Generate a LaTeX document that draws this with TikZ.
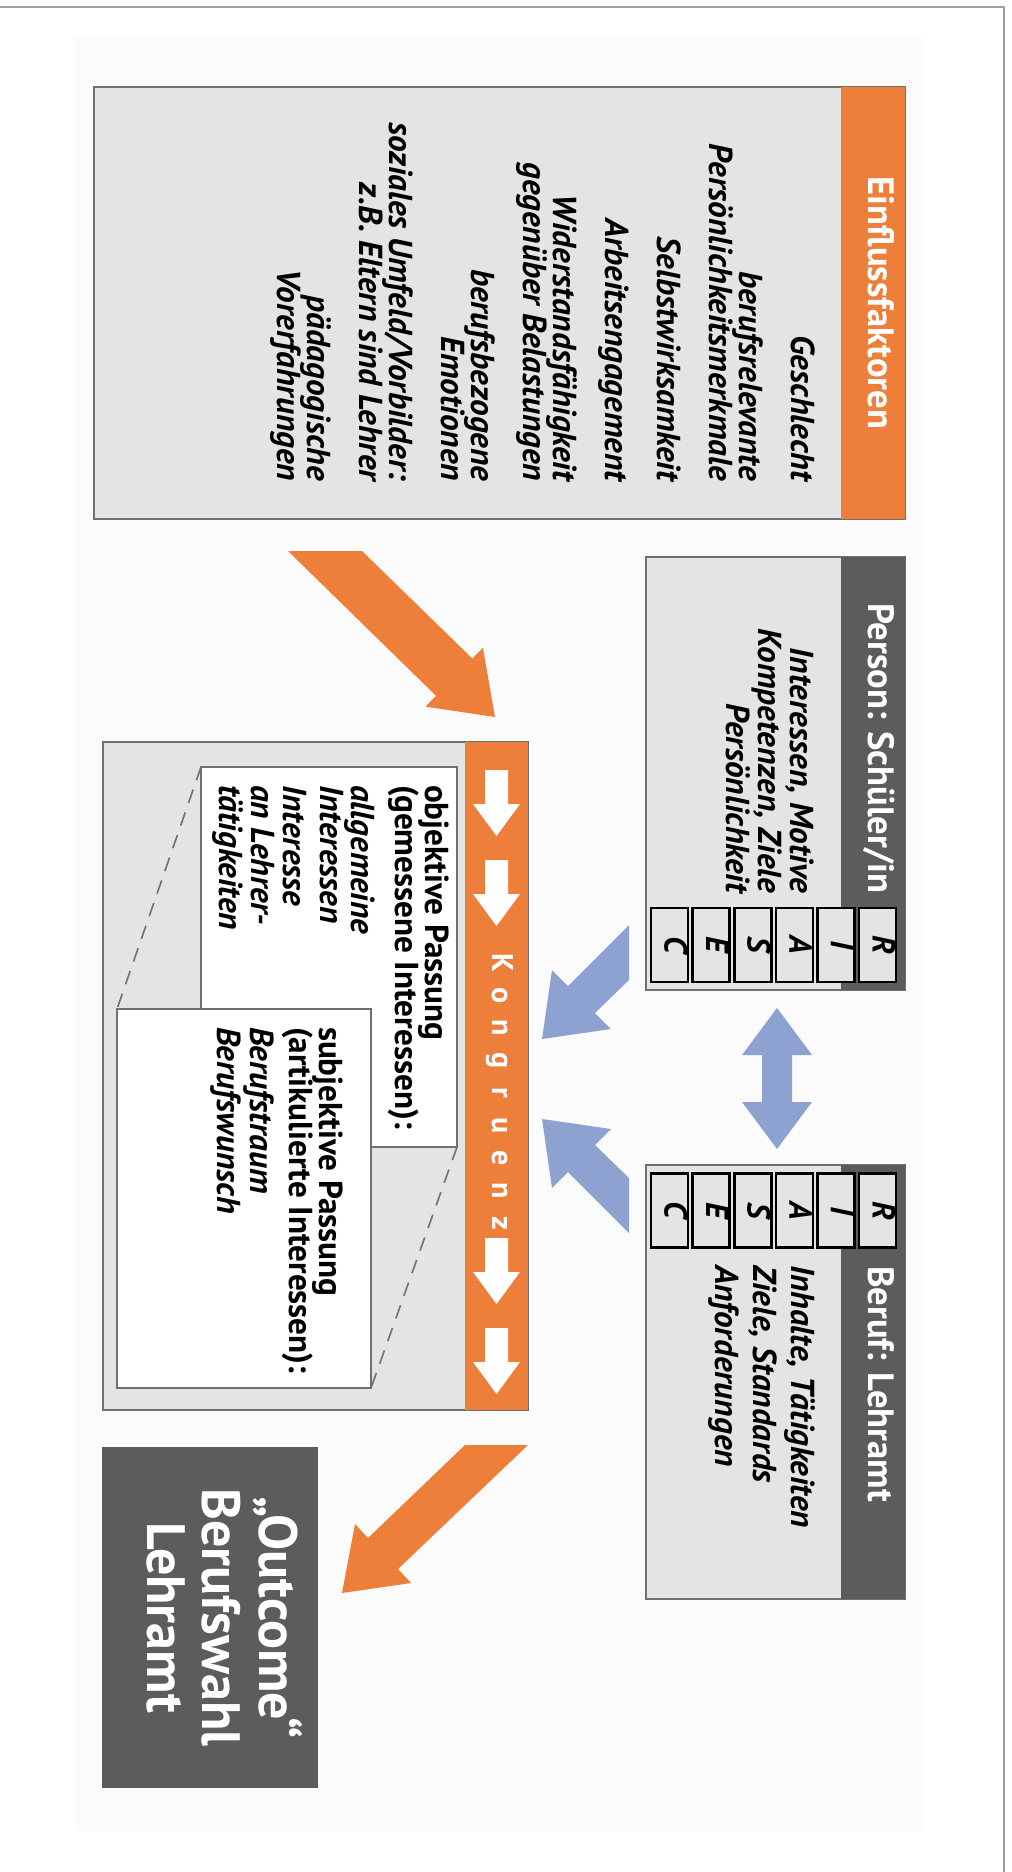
\documentclass[tikz,border=0pt]{standalone}
\usepackage{fontspec}
\setmainfont{PT Sans}
\definecolor{orng}{RGB}{238,127,59}
\definecolor{dgray}{RGB}{92,92,92}
\definecolor{lgray}{RGB}{228,228,228}
\definecolor{bord}{RGB}{112,112,112}
\definecolor{blu}{RGB}{142,162,210}
\definecolor{faint}{RGB}{251,251,251}
\definecolor{framec}{RGB}{160,160,160}
\begin{document}
\begin{tikzpicture}[x=0.5pt,y=-0.5pt,
  vt/.style={rotate=-90, inner sep=0pt, outer sep=0pt, text height=0.7em, text depth=0.2em},
  bodyit/.style={vt, font=\fontsize{16.6}{18}\selectfont\bfseries\itshape},
  bodybf/.style={vt, font=\fontsize{16.6}{18}\selectfont\bfseries},
  headtxt/.style={vt, text=white, font=\fontsize{18.3}{21}\selectfont\bfseries},
  outtxt/.style={vt, text=white, font=\fontsize{27}{30}\selectfont\bfseries},
  kong/.style={vt, text=white, font=\fontsize{15}{17}\selectfont\bfseries},
  graybox/.style={fill=lgray, draw=bord, line width=1.2pt, inner sep=0pt, outer sep=0pt, anchor=north west},
  whitebox/.style={fill=white, draw=bord, line width=1.2pt, inner sep=0pt, outer sep=0pt, anchor=north west},
  bandbox/.style={inner sep=0pt, outer sep=0pt, anchor=north west},
  cell/.style={vt, draw=black, fill=lgray, line width=1.3pt, minimum width=37pt, minimum height=18.5pt, font=\fontsize{16}{18}\selectfont\bfseries\itshape},
  zoomline/.style={draw=bord, line width=0.8pt, dash pattern=on 7pt off 5pt}
]
\useasboundingbox (0,0) rectangle (1011,1872);
\fill[faint] (75,38) rectangle (924,1831);
\draw[framec, line width=1pt] (0,7) -- (1004,7) -- (1004,1872);

% Einflussfaktoren
\node[graybox, minimum width=405.5pt, minimum height=216pt] (einfl) at (94,87) {};
\node[bandbox, fill=orng, minimum width=32pt, minimum height=216pt] (einflH) at (841,87) {};
\node[headtxt] (einflT) at (873,303) {Einflussfaktoren};
\node[bodyit, anchor=east] (e1) at (796,481) {Geschlecht};
\node[bodyit, anchor=east] (e2) at (744,481) {berufsrelevante};
\node[bodyit, anchor=east] (e3) at (714,481) {Persönlichkeitsmerkmale};
\node[bodyit, anchor=east] (e4) at (662,481) {Selbstwirksamkeit};
\node[bodyit, anchor=east] (e5) at (610,481) {Arbeitsengagement};
\node[bodyit, anchor=east] (e6) at (558,481) {Widerstandsfähigkeit};
\node[bodyit, anchor=east] (e7) at (528,481) {gegenüber Belastungen};
\node[bodyit, anchor=east] (e8) at (476,481) {berufsbezogene};
\node[bodyit, anchor=east] (e9) at (446,481) {Emotionen};
\node[bodyit, anchor=east] (e10) at (394,481) {soziales Umfeld/Vorbilder:};
\node[bodyit, anchor=east] (e11) at (364,481) {z.B. Eltern sind Lehrer};
\node[bodyit, anchor=east] (e12) at (312,481) {pädagogische};
\node[bodyit, anchor=east] (e13) at (282,481) {Vorerfahrungen};

% Person
\node[graybox, minimum width=129.5pt, minimum height=216.5pt] (pers) at (646,557) {};
\node[bandbox, fill=dgray, minimum width=32pt, minimum height=216.5pt] (persH) at (841,557) {};
\node[headtxt, anchor=west] (persT) at (873,603) {Person: Schüler/in};
\node[bodyit, anchor=east] (p1) at (795,893) {Interessen, Motive};
\node[bodyit, anchor=east] (p2) at (763,893) {Kompetenzen, Ziele};
\node[bodyit, anchor=east] (p3) at (731,893) {Persönlichkeit};
\foreach \c [count=\i] in {R,I,A,S,E,C}
  \node[cell] (p\c) at (877.5-41.6*\i+41.6,945) {\c};

% Beruf
\node[graybox, minimum width=129.5pt, minimum height=217pt] (beruf) at (646,1165) {};
\node[bandbox, fill=dgray, minimum width=32pt, minimum height=217pt] (berufH) at (841,1165) {};
\node[headtxt, anchor=west] (berufT) at (873,1266) {Beruf: Lehramt};
\node[bodyit, anchor=west] (b1) at (796,1265) {Inhalte, Tätigkeiten};
\node[bodyit, anchor=west] (b2) at (758,1265) {Ziele, Standards};
\node[bodyit, anchor=west] (b3) at (720,1265) {Anforderungen};
\foreach \c [count=\i] in {R,I,A,S,E,C}
  \node[cell] (b\c) at (877.5-41.6*\i+41.6,1210.5) {\c};

% Kongruenz
\node[graybox, minimum width=212.5pt, minimum height=334pt] (kongr) at (103,742) {};
\node[bandbox, fill=orng, minimum width=31.5pt, minimum height=334pt] (kongrH) at (465,742) {};
\foreach \t in {770,860,1238,1328}
  \fill[white] (485,\t) -- (508,\t) -- (508,\t+34) -- (520,\t+34) -- (496.5,\t+66) -- (473,\t+34) -- (485,\t+34) -- cycle;
\foreach \c [count=\i] in {K,o,n,g,r,u,e,n,z}
  \node[kong] (k\i) at (497,963+32.5*\i-32.5) {\c};

\node[whitebox, minimum width=128pt, minimum height=190pt] (obj) at (201,767) {};
\node[bodybf, anchor=west] (o1) at (430,785) {objektive Passung};
\node[bodybf, anchor=west] (o2) at (400,785) {(gemessene Interessen):};
\node[bodyit, anchor=west] (o3) at (356,785) {allgemeine};
\node[bodyit, anchor=west] (o4) at (325,785) {Interessen};
\node[bodyit, anchor=west] (o5) at (288,785) {Interesse};
\node[bodyit, anchor=west] (o6) at (256,785) {an Lehrer-};
\node[bodyit, anchor=west] (o7) at (224,785) {tätigkeiten};

\node[whitebox, minimum width=127pt, minimum height=189.5pt] (subj) at (117,1009) {};
\node[bodybf, anchor=west] (s1) at (324,1027) {subjektive Passung};
\node[bodybf, anchor=west] (s2) at (294,1027) {(artikulierte Interessen):};
\node[bodyit, anchor=west] (s3) at (255,1027) {Berufstraum};
\node[bodyit, anchor=west] (s4) at (222,1027) {Berufswunsch};

\draw[zoomline] (obj.north west) -- (subj.north west);
\draw[zoomline] (obj.south east) -- (subj.south east);

% Outcome
\node[bandbox, fill=dgray, minimum width=108pt, minimum height=170.5pt] (outc) at (102,1447) {};
\node[outtxt] (out1) at (264,1617.5) {„Outcome“};
\node[outtxt] (out2) at (207,1617.5) {Berufswahl};
\node[outtxt] (out3) at (152,1617.5) {Lehramt};

% orange arrows
\fill[orng] (288,551) -- (362,551) -- (472.4,658.6) -- (482.9,647.8) -- (495,717) -- (425.5,706.6) -- (436,695.8) -- cycle;
\fill[orng] (465,1445) -- (528,1445) -- (398,1569) -- (411,1583) -- (342,1593) -- (355,1524) -- (368,1538) -- cycle;

% blue arrows
\fill[blu] (629,925) -- (568,986) -- (552,970) -- (542,1039) -- (611,1029) -- (595,1013) -- (629,980) -- cycle;
\fill[blu] (629,1233) -- (568,1172) -- (552,1188) -- (542,1119) -- (611,1129) -- (595,1145) -- (629,1178) -- cycle;
\fill[blu] (777,1008) -- (812,1055) -- (792,1055) -- (792,1102) -- (812,1102) -- (777,1149) -- (742,1102) -- (762,1102) -- (762,1055) -- (742,1055) -- cycle;
\end{tikzpicture}
\end{document}
